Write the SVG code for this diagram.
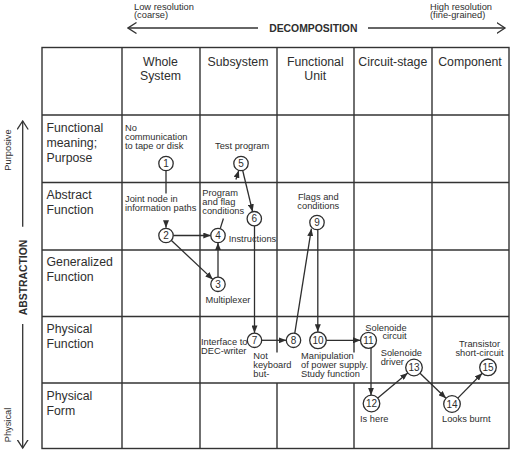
<svg xmlns="http://www.w3.org/2000/svg" width="510" height="452" viewBox="0 0 510 452">
<defs>
<style>
text{font-family:"Liberation Sans",Arial,sans-serif;fill:#2e2e2e}
.grid{stroke:#333;stroke-width:1.4;fill:none}
.hdr{font-size:12.3px;text-anchor:middle}
.row{font-size:12.3px}
.ann{font-size:9.3px}
.num{font-size:10px;text-anchor:middle}
.node circle{fill:#fff;stroke:#2e2e2e;stroke-width:1.3}
.axis{stroke:#333;stroke-width:1.3;fill:none}
.bold{font-weight:bold;font-size:10.4px}
#connectors line,#connectors path{stroke:#2e2e2e;stroke-width:1.3;fill:none}
</style>
<marker id="ah" markerUnits="userSpaceOnUse" markerWidth="8" markerHeight="6" refX="7.5" refY="3" orient="auto">
<path d="M0,0 L7.5,3 L0,6 z" fill="#2e2e2e"/>
</marker>
<marker id="open" markerUnits="userSpaceOnUse" markerWidth="10" markerHeight="12" refX="8.5" refY="6" orient="auto">
<path d="M0,0.5 L8.5,6 L0,11.5" fill="none" stroke="#333" stroke-width="1.3"/>
</marker>
</defs>
<rect width="510" height="452" fill="#fff"/>

<g id="axes">
<text class="ann" x="134" y="9.5">Low resolution</text>
<text class="ann" x="134" y="18.3">(coarse)</text>
<text class="ann" x="430" y="9.5">High resolution</text>
<text class="ann" x="430" y="18.3">(fine-grained)</text>
<line class="axis" x1="258" y1="28" x2="128" y2="28" marker-end="url(#open)"/>
<line class="axis" x1="368" y1="28" x2="505" y2="28" marker-end="url(#open)"/>
<text class="bold" x="313.3" y="31.8" text-anchor="middle">DECOMPOSITION</text>
<line class="axis" x1="22.7" y1="226.7" x2="22.7" y2="121" marker-end="url(#open)"/>
<line class="axis" x1="22.7" y1="324" x2="22.7" y2="448" marker-end="url(#open)"/>
<text class="bold" transform="translate(26.6,277.5) rotate(-90)" text-anchor="middle">ABSTRACTION</text>
<text class="ann" transform="translate(11,150) rotate(-90)" text-anchor="middle">Purposive</text>
<text class="ann" transform="translate(11,425) rotate(-90)" text-anchor="middle">Physical</text>
</g>

<g id="grid">
<rect class="grid" x="42" y="47.5" width="467" height="401"/>
<line class="grid" x1="122" y1="47.5" x2="122" y2="448.5"/>
<line class="grid" x1="200" y1="47.5" x2="200" y2="448.5"/>
<line class="grid" x1="277" y1="47.5" x2="277" y2="352.5"/>
<line class="grid" x1="277" y1="383" x2="277" y2="448.5"/>
<line class="grid" x1="354" y1="47.5" x2="354" y2="352.5"/>
<line class="grid" x1="354" y1="383" x2="354" y2="448.5"/>
<line class="grid" x1="432" y1="47.5" x2="432" y2="448.5"/>
<line class="grid" x1="42" y1="115" x2="509" y2="115"/>
<line class="grid" x1="42" y1="182.5" x2="509" y2="182.5"/>
<line class="grid" x1="42" y1="250" x2="509" y2="250"/>
<line class="grid" x1="42" y1="316.5" x2="509" y2="316.5"/>
<line class="grid" x1="42" y1="383" x2="509" y2="383"/>
</g>

<g id="headers">
<text class="hdr" x="160.5" y="65.7">Whole</text>
<text class="hdr" x="160.5" y="80">System</text>
<text class="hdr" x="238" y="65.7">Subsystem</text>
<text class="hdr" x="315.3" y="65.7">Functional</text>
<text class="hdr" x="315.3" y="80">Unit</text>
<text class="hdr" x="392.8" y="65.7">Circuit-stage</text>
<text class="hdr" x="470" y="65.7">Component</text>
</g>

<g id="rowlabels">
<text class="row" x="46.5" y="132.3">Functional</text>
<text class="row" x="46.5" y="147">meaning;</text>
<text class="row" x="46.5" y="161.7">Purpose</text>
<text class="row" x="46.5" y="199">Abstract</text>
<text class="row" x="46.5" y="213.5">Function</text>
<text class="row" x="46.5" y="266">Generalized</text>
<text class="row" x="46.5" y="280.7">Function</text>
<text class="row" x="46.5" y="333.3">Physical</text>
<text class="row" x="46.5" y="348.3">Function</text>
<text class="row" x="46.5" y="400">Physical</text>
<text class="row" x="46.5" y="415">Form</text>
</g>

<g id="connectors">
<line x1="166" y1="170.7" x2="166" y2="193.5"/>
<line x1="166" y1="221.5" x2="166" y2="227.8" marker-end="url(#ah)"/>
<line x1="173.2" y1="235.5" x2="210.8" y2="235.5" marker-end="url(#ah)"/>
<line x1="171.2" y1="240.2" x2="212.8" y2="279.4" marker-end="url(#ah)"/>
<line x1="218" y1="277.1" x2="218" y2="242.7" marker-end="url(#ah)"/>
<line x1="220.2" y1="228.6" x2="223.4" y2="218.5"/>
<line x1="235.9" y1="179.5" x2="238.8" y2="170.4" marker-end="url(#ah)"/>
<line x1="242.7" y1="170.5" x2="252.6" y2="211.7" marker-end="url(#ah)"/>
<line x1="254.5" y1="225.9" x2="254.5" y2="332.9" marker-end="url(#ah)"/>
<line x1="261.7" y1="340.3" x2="286.3" y2="340.3" marker-end="url(#ah)"/>
<line x1="294.8" y1="333.2" x2="311.4" y2="228.7" marker-end="url(#ah)"/>
<line x1="317.8" y1="229.7" x2="317.8" y2="331.7" marker-end="url(#ah)"/>
<line x1="326.3" y1="340.3" x2="360.5" y2="340.3" marker-end="url(#ah)"/>
<line x1="371" y1="347.8" x2="371" y2="395.2" marker-end="url(#ah)"/>
<line x1="377.8" y1="398.1" x2="407.7" y2="372.9" marker-end="url(#ah)"/>
<line x1="420" y1="373.3" x2="446" y2="398.3" marker-end="url(#ah)"/>
<line x1="457.8" y1="398.1" x2="482.2" y2="373.2" marker-end="url(#ah)"/>
</g>

<g id="n1" class="node"><circle cx="166" cy="163.5" r="7.2"/><text class="num" x="166" y="167">1</text></g>
<g id="n2" class="node"><circle cx="166" cy="235.5" r="7.2"/><text class="num" x="166" y="239">2</text></g>
<g id="n3" class="node"><circle cx="218" cy="284.3" r="7.2"/><text class="num" x="218" y="287.8">3</text></g>
<g id="n4" class="node"><circle cx="218" cy="235.5" r="7.2"/><text class="num" x="218" y="239">4</text></g>
<g id="n5" class="node"><circle cx="241" cy="163.5" r="7.2"/><text class="num" x="241" y="167">5</text></g>
<g id="n6" class="node"><circle cx="254.3" cy="218.7" r="7.2"/><text class="num" x="254.3" y="222.2">6</text></g>
<g id="n7" class="node"><circle cx="254.5" cy="340.3" r="7.2"/><text class="num" x="254.5" y="343.8">7</text></g>
<g id="n8" class="node"><circle cx="293.5" cy="340.3" r="7.2"/><text class="num" x="293.5" y="343.8">8</text></g>
<g id="n9" class="node"><circle cx="317" cy="222.5" r="7.2"/><text class="num" x="317" y="226">9</text></g>
<g id="n10" class="node"><circle cx="318" cy="340.3" r="8.3"/><text class="num" x="318" y="343.8">10</text></g>
<g id="n11" class="node"><circle cx="368.5" cy="340.3" r="8"/><text class="num" x="368.5" y="343.8">11</text></g>
<g id="n12" class="node"><circle cx="371.5" cy="403.5" r="8.3"/><text class="num" x="371.5" y="407">12</text></g>
<g id="n13" class="node"><circle cx="414" cy="367.5" r="8.3"/><text class="num" x="414" y="371">13</text></g>
<g id="n14" class="node"><circle cx="452" cy="404" r="8.3"/><text class="num" x="452" y="407.5">14</text></g>
<g id="n15" class="node"><circle cx="488" cy="367.3" r="8.3"/><text class="num" x="488" y="370.8">15</text></g>

<g id="labels">
<text class="ann" x="125" y="131">No</text>
<text class="ann" x="125" y="140.2">communication</text>
<text class="ann" x="125" y="149.4">to tape or disk</text>
<text class="ann" x="215" y="149.4">Test program</text>
<text class="ann" x="125" y="201.7">Joint node in</text>
<text class="ann" x="125" y="211">information paths</text>
<text class="ann" x="202.3" y="195.7">Program</text>
<text class="ann" x="202.3" y="205">and flag</text>
<text class="ann" x="202.3" y="214.3">conditions</text>
<text class="ann" x="228.7" y="242.3">Instructions</text>
<text class="ann" x="205.5" y="303.3">Multiplexer</text>
<text class="ann" x="318.3" y="200" text-anchor="middle">Flags and</text>
<text class="ann" x="318.3" y="209.2" text-anchor="middle">conditions</text>
<text class="ann" x="201" y="345">Interface to</text>
<text class="ann" x="201" y="354">DEC-writer</text>
<text class="ann" x="253.3" y="359.3">Not</text>
<text class="ann" x="253.3" y="368.3">keyboard</text>
<text class="ann" x="253.3" y="377.3">but-</text>
<text class="ann" x="301" y="359.3">Manipulation</text>
<text class="ann" x="301" y="368.3">of power supply.</text>
<text class="ann" x="301" y="377.3">Study function</text>
<text class="ann" x="406.7" y="330.7" text-anchor="end">Solenoide</text>
<text class="ann" x="406.7" y="339.3" text-anchor="end">circuit</text>
<text class="ann" x="380.7" y="356">Solenoide</text>
<text class="ann" x="380.7" y="365">driver</text>
<text class="ann" x="479.5" y="346.7" text-anchor="middle">Transistor</text>
<text class="ann" x="479.5" y="355.7" text-anchor="middle">short-circuit</text>
<text class="ann" x="360" y="422.3">Is here</text>
<text class="ann" x="442" y="421.7">Looks burnt</text>
</g>
</svg>
